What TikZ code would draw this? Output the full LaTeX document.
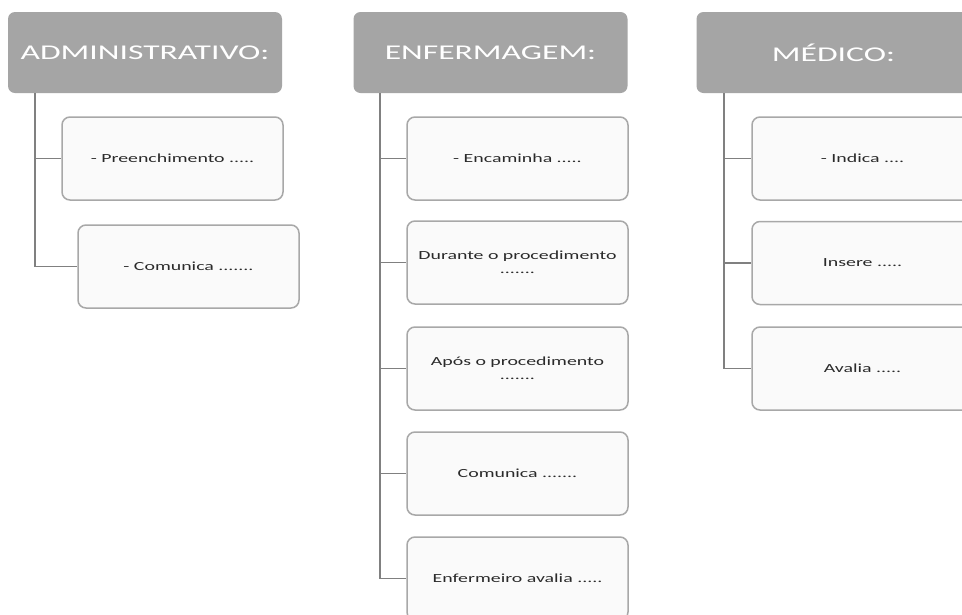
\documentclass[tikz,border=0pt]{standalone}
\usepackage{fontspec}
\newfontfamily\diagfont[FakeStretch=1.6]{Carlito}
\definecolor{hdrfill}{HTML}{A5A5A5}
\definecolor{boxfill}{HTML}{FAFAFA}
\definecolor{boxline}{HTML}{A8A8A8}
\definecolor{connline}{HTML}{808080}
\definecolor{txt}{HTML}{2A2A2A}
\tikzset{
  hdr/.style={fill=hdrfill, draw=none, rounded corners=7pt, minimum width=274pt, minimum height=81pt, inner sep=0pt, text=white, font=\diagfont\fontsize{21}{24}\selectfont},
  itembox/.style={fill=boxfill, draw=boxline, line width=1.5pt, rounded corners=8pt, minimum width=221pt, minimum height=83pt, inner sep=0pt, align=center, text=txt, font=\diagfont\fontsize{12.4}{14}\selectfont},
  conn/.style={draw=connline, line width=1.6pt}
}
\begin{document}
\begin{tikzpicture}[x=1pt,y=-1pt]
\useasboundingbox[fill=white] (0,0) rectangle (962,614);
% headers
\node[hdr] (h1) at (145,52.5) {ADMINISTRATIVO:};
\node[hdr] (h2) at (490.5,52.5) {ENFERMAGEM:};
\node[hdr] (h3) at (833.5,52.5) {MÉDICO:};
% trunk start points
\coordinate (t1) at (35,93);
\coordinate (t2) at (380,93);
\coordinate (t3) at (724,93);
% administrative boxes
\node[itembox] (a1) at (172.5,158.5) {- Preenchimento .....};
\node[itembox] (a2) at (188.5,266.5) {- Comunica .......};
% nursing boxes
\node[itembox] (e1) at (517.5,158.5) {- Encaminha .....};
\node[itembox] (e2) at (517.5,262.5) {Durante o procedimento\\.......};
\node[itembox] (e3) at (517.5,368.5) {Após o procedimento\\.......};
\node[itembox] (e4) at (517.5,473.5) {Comunica .......};
\node[itembox] (e5) at (517.5,578.5) {Enfermeiro avalia .....};
% medical boxes
\node[itembox] (m1) at (862.5,158.5) {- Indica ....};
\node[itembox] (m2) at (862.5,263) {Insere .....};
\node[itembox] (m3) at (862.5,368.5) {Avalia .....};
% connectors
\draw[conn] (t1) |- (a2.west);
\draw[conn] (t1 |- a1.west) -- (a1.west);
\draw[conn] (t2) |- (e5.west);
\foreach \b in {e1,e2,e3,e4} \draw[conn] (t2 |- \b.west) -- (\b.west);
\draw[conn] (t3) |- (m3.west);
\foreach \b in {m1,m2} \draw[conn] (t3 |- \b.west) -- (\b.west);
\end{tikzpicture}
\end{document}
